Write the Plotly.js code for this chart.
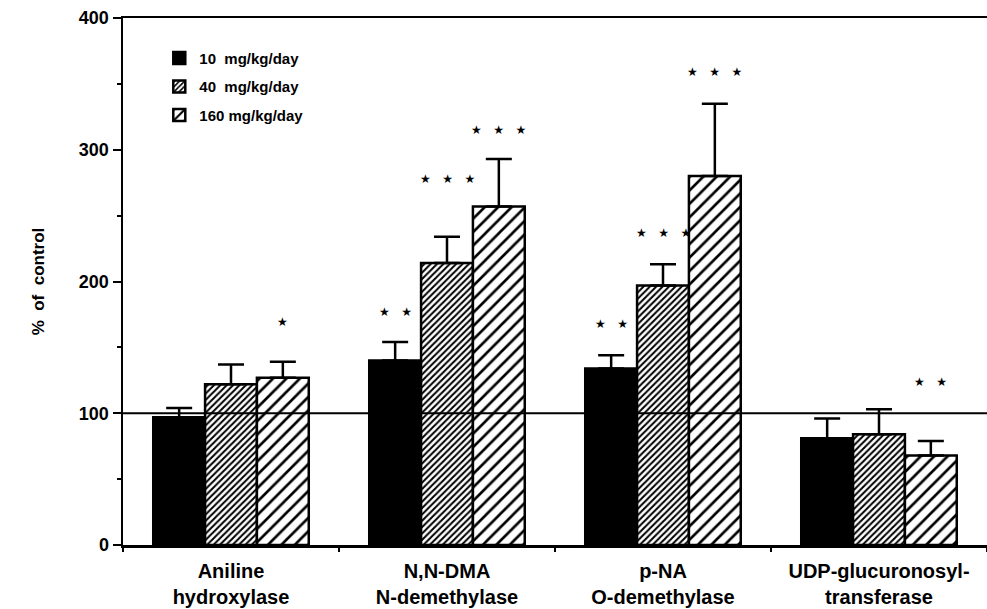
<!DOCTYPE html>
<html>
<head>
<meta charset="utf-8">
<script src="https://cdn.plot.ly/plotly-3.0.1.min.js"></script>
<style>html,body{margin:0;padding:0;background:#fff;}#chart{width:987px;height:609px;}</style>
</head>
<body>
<div id="chart"></div>
<script>
var categories = ["Aniline<br>hydroxylase", "N,N-DMA<br>N-demethylase", "p-NA<br>O-demethylase", "UDP-glucuronosyl-<br>transferase"];
var seriesNames = ["10  mg/kg/day", "40  mg/kg/day", "160 mg/kg/day"];
var dose10 = [97, 140, 134, 81];
var dose40 = [122, 214, 197, 84];
var dose160 = [127, 257, 280, 68];
var err10 = [7, 14, 10, 15];
var err40 = [15, 20, 16, 19];
var err160 = [12, 36, 55, 11];
var stars10 = [0, 2, 2, 0];
var stars40 = [0, 3, 3, 0];
var stars160 = [1, 3, 3, 2];
var starY10 = [null, 177, 168, null];
var starY40 = [null, 278, 237, null];
var starY160 = [169, 315, 359, 124];
var yTicks = [0, 100, 200, 300, 400];

var FONT = "Liberation Sans, Arial, Helvetica, sans-serif";
var values = [dose10, dose40, dose160];
var errs = [err10, err40, err160];
var stars = [stars10, stars40, stars160];
var starYs = [starY10, starY40, starY160];
var patterns = [
  {shape: "", fgcolor: "black", bgcolor: "black"},
  {shape: "/", size: 4.5, solidity: 0.45, fgcolor: "black", bgcolor: "white", fillmode: "replace"},
  {shape: "/", size: 9.5, solidity: 0.28, fgcolor: "black", bgcolor: "white", fillmode: "replace"}
];

var traces = values.map(function(v, i) {
  return {
    type: "bar",
    name: seriesNames[i],
    legendgroup: "g" + i,
    x: categories,
    y: v,
    marker: {color: i === 0 ? "black" : "white", line: {color: "black", width: 2.5}, pattern: patterns[i]},
    error_y: {type: "data", symmetric: false, array: errs[i], arrayminus: v.map(function(){return 0;}), color: "black", thickness: 2.5, width: 13}
  };
});

var annotations = [];
var barW = 0.24;
var gap = "\u00a0\u00a0\u00a0";
stars.forEach(function(s, i) {
  s.forEach(function(n, c) {
    if (n > 0) {
      annotations.push({
        x: c + (i - 1) * barW, y: starYs[i][c], xref: "x", yref: "y",
        text: Array(n).fill("\u2605").join(gap), showarrow: false, yanchor: "middle",
        font: {family: "DejaVu Sans, sans-serif", size: 12, color: "black"}
      });
    }
  });
});

var layout = {
  width: 987, height: 609,
  margin: {l: 123, r: 0, t: 18, b: 64},
  paper_bgcolor: "white", plot_bgcolor: "white",
  barmode: "group", bargap: 0.28, bargroupgap: 0,
  showlegend: true,
  legend: {x: 0.042, y: 0.955, xanchor: "left", yanchor: "top", bgcolor: "rgba(0,0,0,0)",
    font: {family: FONT, size: 15, color: "black", weight: "bold"},
    traceorder: "grouped", tracegroupgap: 6, itemwidth: 30},
  xaxis: {
    type: "category", range: [-0.5, 3.5],
    showline: true, linecolor: "black", linewidth: 2.5, mirror: true,
    ticks: "outside", tickson: "boundaries", ticklen: 4, tickcolor: "black", tickwidth: 2,
    ticklabelstandoff: 6,
    showgrid: false, zeroline: false,
    tickfont: {family: FONT, size: 20, color: "black", weight: "bold"}
  },
  yaxis: {
    range: [0, 400], tickvals: yTicks, ticktext: yTicks.map(String),
    showline: true, linecolor: "black", linewidth: 2.5,
    ticks: "outside", ticklen: 8, tickwidth: 2, tickcolor: "black",
    minor: {dtick: 50, ticks: "outside", ticklen: 4, tickwidth: 2, tickcolor: "black"},
    showgrid: false, zeroline: false,
    tickfont: {family: FONT, size: 18, color: "black", weight: "bold"},
    title: {text: "%\u00a0\u00a0of\u00a0\u00a0control", standoff: 30, font: {family: FONT, size: 17, color: "black", weight: "bold"}}
  },
  shapes: [{type: "line", xref: "paper", yref: "y", x0: 0, x1: 1, y0: 100, y1: 100, line: {color: "black", width: 2}, layer: "above"}],
  annotations: annotations
};

Plotly.newPlot("chart", traces, layout, {displayModeBar: false, staticPlot: true});
</script>
</body>
</html>
